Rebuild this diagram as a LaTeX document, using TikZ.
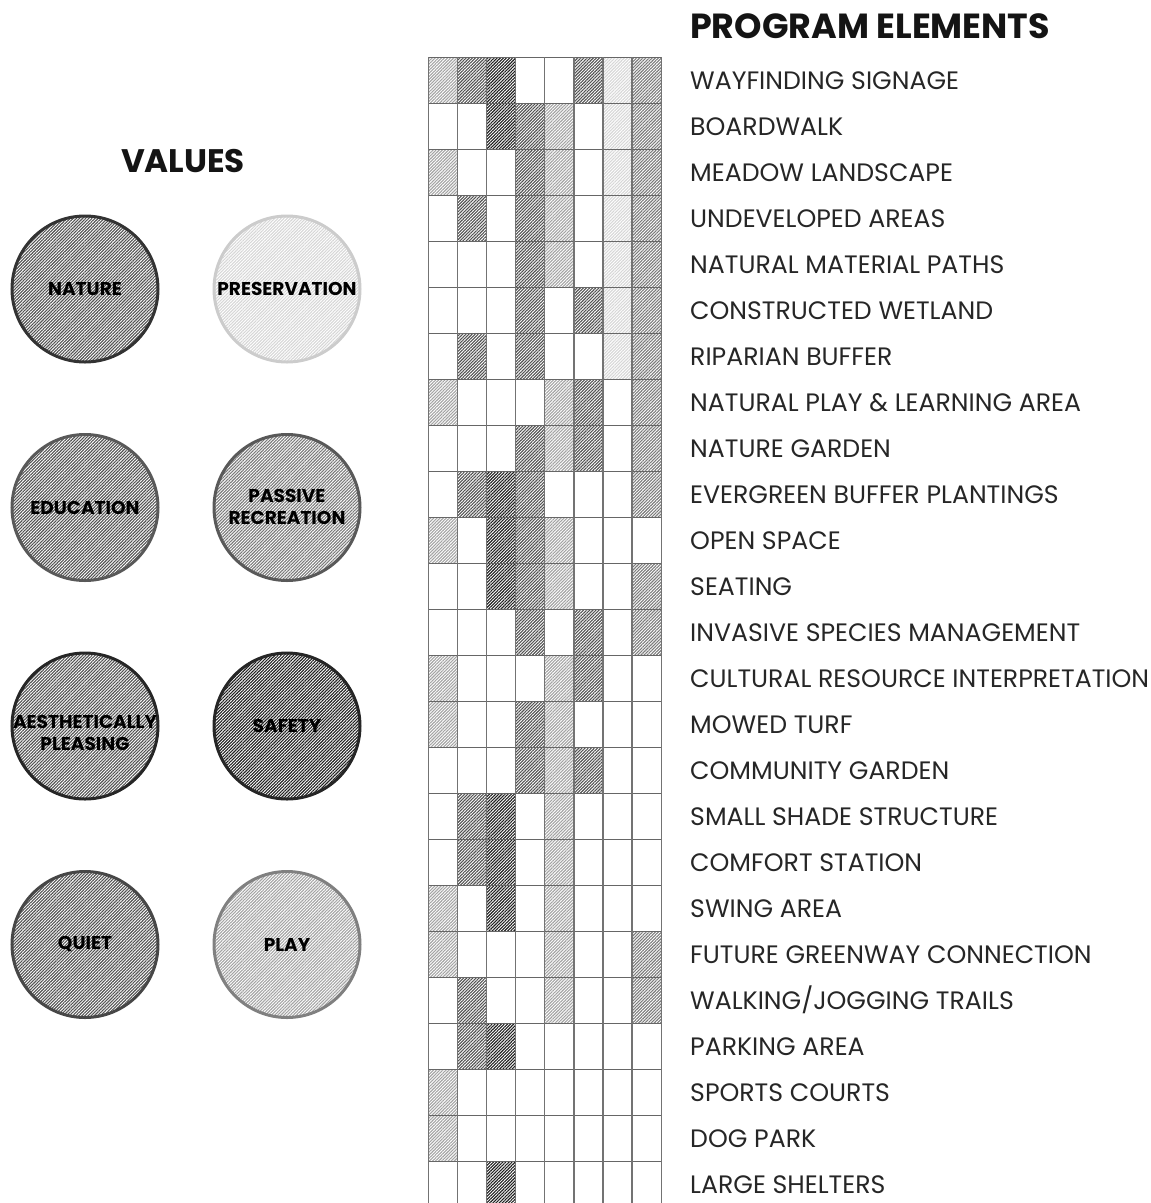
\documentclass[tikz,border=0pt]{standalone}
\usepackage{fontspec}
\setmainfont{Poppins}
\usetikzlibrary{patterns.meta}
\colorlet{tA}{black!88}
\colorlet{tB}{black!68}
\colorlet{tC}{black!52}
\colorlet{tD}{black!36}
\colorlet{tE}{black!16}
\colorlet{col1}{tD}
\colorlet{col2}{tB}
\colorlet{col3}{tA}
\colorlet{col4}{tB}
\colorlet{col5}{tD}
\colorlet{col6}{tB}
\colorlet{col7}{tE}
\colorlet{col8}{tC}
\tikzset{
  hatch/.style={pattern={Lines[angle=45,distance=2.2pt,line width=1.1pt]},pattern color=#1},
  valuecircle/.style n args={2}{circle,minimum size=146bp,inner sep=0pt,line width=3bp,draw=#1,hatch=#2},
  valuetext/.style={font=\bfseries\fontsize{18.6}{22}\selectfont,align=center,text=black},
  progtext/.style={anchor=base west,font=\fontsize{25.3}{30}\selectfont,text=black!85,inner sep=0pt},
  titletext/.style={font=\bfseries\fontsize{35}{40}\selectfont,text=black!92,inner sep=0pt}
}
\begin{document}
\begin{tikzpicture}[x=1bp,y=-1bp]
\useasboundingbox (0,0) rectangle (1151,1203);
\clip (0,0) rectangle (1151,1203);
% titles
\node[titletext,font=\bfseries\fontsize{32.7}{38}\selectfont,anchor=base] (valtitle) at (183,172) {VALUES};
\node[titletext,anchor=base west] (progtitle) at (690,38) {PROGRAM ELEMENTS};
% value circles
\node[valuecircle={black!80}{tB}] (nature) at (85,289) {};
\node[valuecircle={black!20}{tE}] (preservation) at (287,289) {};
\node[valuecircle={black!65}{tB}] (education) at (85,507.5) {};
\node[valuecircle={black!65}{tC}] (passive) at (287,507.5) {};
\node[valuecircle={black!85}{tB}] (aesthetic) at (85,726) {};
\node[valuecircle={black!85}{tA}] (safety) at (287,726) {};
\node[valuecircle={black!72}{tB}] (quiet) at (85,944.5) {};
\node[valuecircle={black!50}{tD}] (play) at (287,944.5) {};
\node[valuetext] (naturet) at (nature) {NATURE};
\node[valuetext] (preservationt) at (preservation) {PRESERVATION};
\node[valuetext] (educationt) at (education) {EDUCATION};
\node[valuetext] (passivet) at ([yshift=1]passive) {PASSIVE\\RECREATION};
\node[valuetext] (aesthetict) at ([yshift=-7]aesthetic) {AESTHETICALLY\\PLEASING};
\node[valuetext] (safetyt) at (safety) {SAFETY};
\node[valuetext] (quiett) at (quiet) {QUIET};
\node[valuetext] (playt) at (play) {PLAY};
% grid cells
\def\xo{428.3}\def\cw{29.12}\def\yo{57.3}\def\rh{46}
\foreach \r/\cols in {1/{1,2,3,6,7,8},2/{3,4,5,7,8},3/{1,4,5,7,8},4/{2,4,5,7,8},5/{4,5,7,8},
  6/{4,6,7,8},7/{2,4,7,8},8/{1,5,6,8},9/{4,5,6,8},10/{2,3,4,8},11/{1,3,4,5},12/{3,4,5,8},
  13/{4,6,8},14/{1,5,6},15/{1,4,5},16/{4,5,6},17/{2,3,5},18/{2,3,5},19/{1,3,5},20/{1,5,8},
  21/{2,5,8},22/{2,3},23/{1},24/{1},25/{3}}{
  \foreach \c in \cols {
    \path[hatch=col\c] ({\xo+(\c-1)*\cw},{\yo+(\r-1)*\rh}) rectangle ({\xo+\c*\cw},{\yo+\r*\rh});
  }
}
\foreach \k in {0,...,24} \draw[draw=black!60,line width=1.3bp] ({\xo},{\yo+\k*\rh}) -- ({\xo+8*\cw},{\yo+\k*\rh});
\foreach \k in {0,...,8} \draw[draw=black!55,line width=1.3bp] ({\xo+\k*\cw},{\yo}) -- ({\xo+\k*\cw},1210);
% program labels
\foreach \t [count=\r] in {WAYFINDING SIGNAGE,BOARDWALK,MEADOW LANDSCAPE,UNDEVELOPED AREAS,
  NATURAL MATERIAL PATHS,CONSTRUCTED WETLAND,RIPARIAN BUFFER,NATURAL PLAY \& LEARNING AREA,
  NATURE GARDEN,EVERGREEN BUFFER PLANTINGS,OPEN SPACE,SEATING,INVASIVE SPECIES MANAGEMENT,
  CULTURAL RESOURCE INTERPRETATION,MOWED TURF,COMMUNITY GARDEN,SMALL SHADE STRUCTURE,
  COMFORT STATION,SWING AREA,FUTURE GREENWAY CONNECTION,{WALKING/JOGGING TRAILS},PARKING AREA,
  SPORTS COURTS,DOG PARK,LARGE SHELTERS}{
  \node[progtext] (prog\r) at (690,{\yo+(\r-0.5)*\rh+8.7}) {\t};
}
\end{tikzpicture}
\end{document}
